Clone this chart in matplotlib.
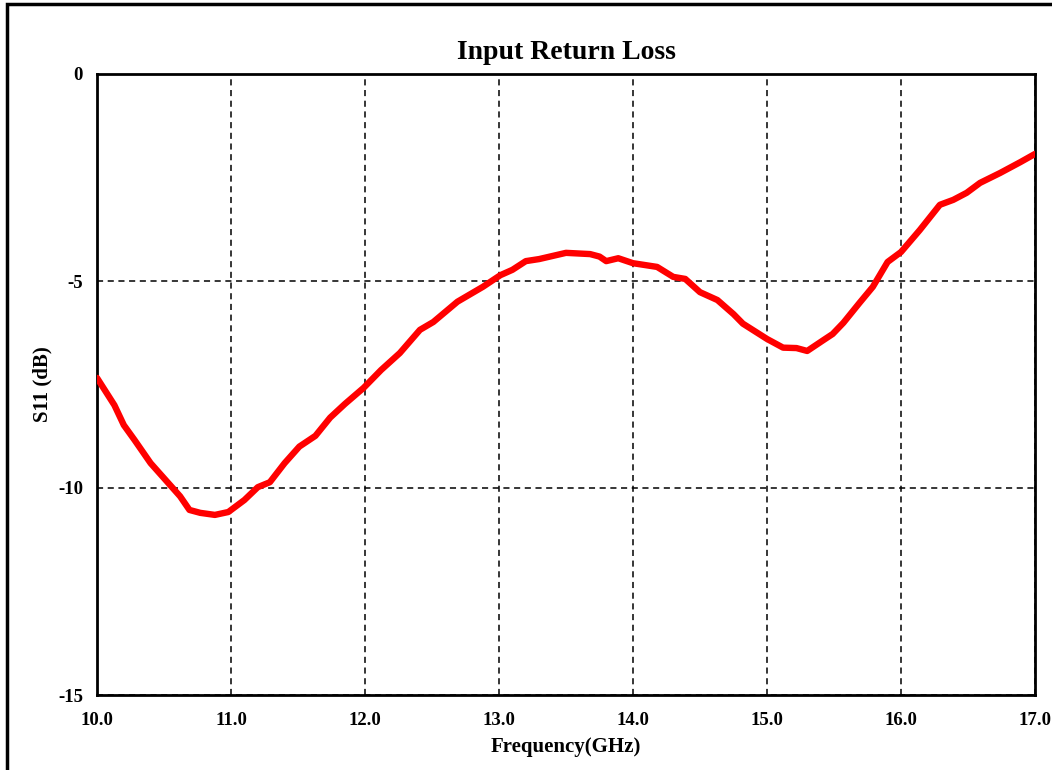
import numpy as np
import matplotlib
matplotlib.use('Agg')
import matplotlib.pyplot as plt
from matplotlib.patches import Rectangle

# frequency (GHz) and S11 (dB)
freq = [10.00, 10.13, 10.20, 10.28, 10.40, 10.51, 10.62, 10.69, 10.77, 10.88,
        10.98, 11.10, 11.20, 11.29, 11.40, 11.51, 11.63, 11.74, 11.85, 11.99,
        12.12, 12.26, 12.41, 12.51, 12.69, 12.88, 13.01, 13.10, 13.20, 13.30,
        13.50, 13.68, 13.75, 13.80, 13.89, 14.00, 14.18, 14.30, 14.39, 14.50,
        14.63, 14.75, 14.82, 15.00, 15.12, 15.22, 15.30, 15.42, 15.49, 15.57,
        15.69, 15.79, 15.90, 16.00, 16.14, 16.29, 16.39, 16.49, 16.59, 16.74,
        16.89, 17.00]
s11 = [-7.34, -8.00, -8.48, -8.84, -9.40, -9.80, -10.20, -10.53, -10.60, -10.65,
       -10.58, -10.29, -9.98, -9.86, -9.40, -9.00, -8.74, -8.30, -7.97, -7.58,
       -7.15, -6.74, -6.18, -5.99, -5.50, -5.14, -4.86, -4.73, -4.52, -4.47,
       -4.32, -4.35, -4.41, -4.52, -4.45, -4.57, -4.66, -4.90, -4.95, -5.27,
       -5.46, -5.80, -6.03, -6.40, -6.61, -6.62, -6.69, -6.43, -6.28, -6.01,
       -5.53, -5.14, -4.54, -4.30, -3.77, -3.16, -3.04, -2.87, -2.63, -2.39,
       -2.13, -1.93]

xticks = [10.0, 11.0, 12.0, 13.0, 14.0, 15.0, 16.0, 17.0]
yticks = [0, -5, -10, -15]

plt.rcParams['font.family'] = ['Liberation Serif', 'DejaVu Serif']
plt.rcParams['font.weight'] = 'bold'
plt.rcParams['axes.unicode_minus'] = False

fig = plt.figure(figsize=(10.52, 7.70), dpi=100)
ax = fig.add_axes([97 / 1052, 1 - 695 / 770, 938 / 1052, 621 / 770])

ax.plot(freq, s11, color='#ff0000', linewidth=4.6, solid_capstyle='round',
        solid_joinstyle='round', zorder=3)

ax.set_xlim(10, 17)
ax.set_ylim(-15, 0)
ax.set_xticks(xticks)
ax.set_xticklabels([f"{t:.1f}" for t in xticks])
ax.set_yticks(yticks)
ax.tick_params(length=0, labelsize=13.5, pad=12)
ax.tick_params(axis='y', pad=10)
for lab in ax.get_xticklabels() + ax.get_yticklabels():
    lab.set_fontweight('bold')

ax.grid(True, color='black', linestyle=(0, (4, 3)), linewidth=1.1)
for sp in ax.spines.values():
    sp.set_linewidth(2)

ax.set_title('Input Return Loss', fontsize=20, fontweight='bold', pad=11)
ax.set_xlabel('Frequency(GHz)', fontsize=15, fontweight='bold', labelpad=6)
ax.set_ylabel('S11 (dB)', fontsize=15, fontweight='bold')
ax.yaxis.set_label_coords(-0.047, 0.5)

# outer frame (cut off on the right and bottom in the reference)
fig.patches.append(Rectangle((7 / 1052, -0.1), 1.1, 1.1 - 6 / 770 + 0.002,
                             transform=fig.transFigure, fill=False,
                             edgecolor='black', linewidth=2.5))

fig.savefig('out.png', dpi=100)
